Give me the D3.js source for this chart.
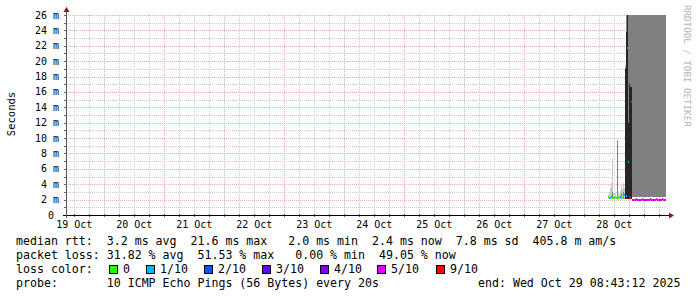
<!DOCTYPE html>
<html>
<head>
    <title>SmokePing Latency</title>
    <script src="https://d3js.org/d3.v7.min.js"></script>
    <style>
        body { margin: 0; background: #ffffff; }
        text { font-family: "DejaVu Sans Mono", monospace; fill: #000; }
    </style>
</head>
<body>
<script>
// graph window (UTC) and sample step of the plotted data
const graphStart = new Date(Date.UTC(2025, 9, 19, 8, 43, 12));
const graphEnd = new Date(Date.UTC(2025, 9, 29, 8, 43, 12));
const dataStart = new Date(Date.UTC(2025, 9, 28, 9, 31, 12));
const stepMinutes = 24;

// median rtt per sample (ms)
const median = [2.3, 2.2, 2.2, 2.3, 2.2, 2.2, 2.3, 2.2, 2.2, 2.3, 2.2, 2.3, 2.3, 2.4, 2.3, 2.4, 2.6,
    19.1, 2.5, 21.7, 6.9, 2.4, 2.2, 14.7,
    2.0, 1.9, 2.0, 2.0, 2.1, 1.9, 2.0, 2.0, 1.9, 2.0, 2.1, 2.0, 1.9, 2.0, 2.0, 2.0, 1.9,
    2.0, 2.1, 2.0, 2.0, 1.9, 2.0, 2.0, 2.1, 2.0, 1.9, 2.0, 2.0, 2.0, 2.1, 2.0, 1.9, 2.0];
// lost pings out of 10 per sample
const loss = [0, 1, 1, 1, 0, 1, 0, 0, 0, 0, 0, 0, 1, 0, 0, 0, 1,
    1, 1, 1, 1, 9, 9, 5,
    5, 5, 5, 5, 5, 5, 5, 5, 5, 5, 5, 5, 5, 5, 5, 5, 5,
    5, 5, 5, 5, 5, 5, 5, 5, 5, 5, 5, 5, 5, 5, 5, 5, 5];
// smoke: bottom, and tops of the light / mid / dark bands (ms)
const smokeLo = [2.1, 2.1, 2.1, 2.1, 2.1, 2.1, 2.1, 2.1, 2.1, 2.1, 2.1, 2.1, 2.1, 2.1, 2.1, 2.1, 2.1,
    2.1, 2.1, 2.1, 2.1, 2.1, 2.1, 2.1,
    2.3, 2.3, 2.3, 2.3, 2.3, 2.3, 2.3, 2.3, 2.3, 2.3, 2.3, 2.3, 2.3, 2.3, 2.3, 2.3, 2.3,
    2.3, 2.3, 2.3, 2.3, 2.3, 2.3, 2.3, 2.3, 2.3, 2.3, 2.3, 2.3, 2.3, 2.3, 2.3, 2.3, 2.3];
const smokeLight = [2.6, 3.0, 3.5, 4.2, 7.3, 2.9, 2.6, 2.8, 2.5, 3.3, 2.7, 2.6, 3.1, 3.9, 3.4, 4.1, 3.5,
    19.5, 24, 27, 27, 27, 27, 27,
    27, 27, 27, 27, 27, 27, 27, 27, 27, 27, 27, 27, 27, 27, 27, 27, 27,
    27, 27, 27, 27, 27, 27, 27, 27, 27, 27, 27, 27, 27, 27, 27, 27, 27];
const smokeMid = [0, 0, 0, 0, 3.0, 0, 0, 0, 0, 9.7, 0, 0, 0, 2.9, 0, 3.0, 0,
    0, 27, 27, 27, 27, 27, 27,
    27, 27, 27, 27, 27, 27, 27, 27, 27, 27, 27, 27, 27, 27, 27, 27, 27,
    27, 27, 27, 27, 27, 27, 27, 27, 27, 27, 27, 27, 27, 27, 27, 27, 27];
const smokeDark = [0, 0, 0, 0, 0, 0, 0, 0, 0, 0, 0, 0, 0, 0, 0, 0, 0,
    19.3, 23.8, 26, 12, 17, 16.6, 16.6,
    0, 0, 0, 0, 0, 0, 0, 0, 0, 0, 0, 0, 0, 0, 0, 0, 0,
    0, 0, 0, 0, 0, 0, 0, 0, 0, 0, 0, 0, 0, 0, 0, 0, 0];

// y axis ticks and loss legend
const yTicks = [0, 2, 4, 6, 8, 10, 12, 14, 16, 18, 20, 22, 24, 26];
const lossLevels = [0, 1, 2, 3, 4, 5, 9];
const lossLabels = ["0", "1/10", "2/10", "3/10", "4/10", "5/10", "9/10"];
const lossColors = ["#26ff00", "#00b8ff", "#0059ff", "#5e00ff", "#7e00ff", "#dd00ff", "#ff0000"];
const legendLines = [
    "median rtt:  3.2 ms avg  21.6 ms max   2.0 ms min  2.4 ms now  7.8 ms sd  405.8 m am/s",
    "packet loss: 31.82 % avg  51.53 % max   0.00 % min  49.05 % now",
    "loss color:",
    "probe:       10 ICMP Echo Pings (56 Bytes) every 20s"
];
const endLabel = "end: Wed Oct 29 08:43:12 2025";

const width = 697, height = 297;
const plot = {left: 66, right: 666, top: 15, bottom: 215};

const svg = d3.select("body").append("svg")
    .attr("width", width)
    .attr("height", height);

svg.append("rect").attr("width", width).attr("height", height).attr("fill", "#ffffff");

const x = d3.scaleUtc().domain([graphStart, graphEnd]).range([plot.left, plot.right]);
const y = d3.scaleLinear().domain([0, 26]).range([plot.bottom, plot.top]);

// grid
const grid = svg.append("g").attr("shape-rendering", "crispEdges");
const minorX = d3.utcHour.every(6).range(graphStart, graphEnd);
const majorX = d3.utcDay.range(graphStart, graphEnd);
const minorY = d3.range(1, 27, 2);

grid.selectAll(".vminor").data(minorX).join("line")
    .attr("x1", d => Math.round(x(d)) + 0.5).attr("x2", d => Math.round(x(d)) + 0.5)
    .attr("y1", plot.top).attr("y2", plot.bottom)
    .attr("stroke", "#cccccc").attr("stroke-dasharray", "1,1");
grid.selectAll(".hminor").data(minorY).join("line")
    .attr("x1", plot.left).attr("x2", plot.right)
    .attr("y1", d => Math.round(y(d)) + 0.5).attr("y2", d => Math.round(y(d)) + 0.5)
    .attr("stroke", "#cccccc").attr("stroke-dasharray", "1,1");
grid.selectAll(".vmajor").data(majorX).join("line")
    .attr("x1", d => Math.round(x(d)) + 0.5).attr("x2", d => Math.round(x(d)) + 0.5)
    .attr("y1", plot.top).attr("y2", plot.bottom)
    .attr("stroke", "#f4aaaa").attr("stroke-dasharray", "1,1");
grid.selectAll(".hmajor").data(yTicks.slice(1)).join("line")
    .attr("x1", plot.left).attr("x2", plot.right)
    .attr("y1", d => Math.round(y(d)) + 0.5).attr("y2", d => Math.round(y(d)) + 0.5)
    .attr("stroke", "#f4aaaa").attr("stroke-dasharray", "1,1");

// samples
const samples = median.map((m, i) => {
    const t0 = new Date(dataStart.getTime() + i * stepMinutes * 60000);
    const t1 = new Date(t0.getTime() + stepMinutes * 60000);
    return {t0, t1, median: m, loss: loss[i], lo: smokeLo[i],
        light: smokeLight[i], mid: smokeMid[i], dark: smokeDark[i]};
});

svg.append("clipPath").attr("id", "plotclip")
    .append("rect").attr("x", plot.left).attr("y", plot.top)
    .attr("width", plot.right - plot.left).attr("height", plot.bottom - plot.top);

const marks = svg.append("g").attr("clip-path", "url(#plotclip)").attr("shape-rendering", "crispEdges");

function band(key, color) {
    marks.selectAll("." + key).data(samples.filter(d => d[key] > d.lo)).join("rect")
        .attr("x", d => x(d.t0))
        .attr("width", d => x(d.t1) - x(d.t0))
        .attr("y", d => y(d[key]))
        .attr("height", d => y(d.lo) - y(d[key]))
        .attr("fill", color);
}
band("light", "#c8c8c8");
band("mid", "#808080");
band("dark", "#262626");

// median, coloured by loss
marks.selectAll(".med").data(samples).join("rect")
    .attr("x", d => x(d.t0))
    .attr("width", d => x(d.t1) - x(d.t0))
    .attr("y", d => y(d.median) - 1)
    .attr("height", 2)
    .attr("fill", d => lossColors[lossLevels.indexOf(d.loss)]);

// axes and ticks
const axes = svg.append("g").attr("shape-rendering", "crispEdges");
axes.selectAll(".xt").data(minorX).join("line")
    .attr("x1", d => Math.round(x(d)) + 0.5).attr("x2", d => Math.round(x(d)) + 0.5)
    .attr("y1", plot.bottom - 1).attr("y2", plot.bottom + 2)
    .attr("stroke", "#666");
axes.selectAll(".yt").data(d3.range(0, 27)).join("line")
    .attr("x1", plot.left - 2).attr("x2", plot.left + 1)
    .attr("y1", d => Math.round(y(d)) + 0.5).attr("y2", d => Math.round(y(d)) + 0.5)
    .attr("stroke", "#666");
axes.append("line")
    .attr("x1", plot.left - 3).attr("x2", plot.right + 4)
    .attr("y1", plot.bottom + 0.5).attr("y2", plot.bottom + 0.5)
    .attr("stroke", "#000");
axes.append("line")
    .attr("x1", plot.left + 0.5).attr("x2", plot.left + 0.5)
    .attr("y1", plot.bottom + 3).attr("y2", plot.top - 4)
    .attr("stroke", "#555");

// arrows
svg.append("path")
    .attr("d", `M${plot.right + 3},${plot.bottom - 2.5}L${plot.right + 8},${plot.bottom + 0.5}L${plot.right + 3},${plot.bottom + 3.5}Z`)
    .attr("fill", "#8b1a1a");
svg.append("path")
    .attr("d", `M${plot.left - 2.5},${plot.top - 3}L${plot.left + 0.5},${plot.top - 8}L${plot.left + 3.5},${plot.top - 3}Z`)
    .attr("fill", "#8b1a1a");

// y labels
svg.selectAll(".ylab").data(yTicks).join("text")
    .attr("x", d => d === 0 ? 54 : 59)
    .attr("y", d => y(d) + 3.5)
    .attr("text-anchor", "end")
    .attr("font-size", "10px")
    .text(d => d === 0 ? "0" : d + " m");

// x labels at noon
const noons = d3.utcDay.range(new Date(Date.UTC(2025, 9, 19)), new Date(Date.UTC(2025, 9, 29)))
    .map(d => new Date(d.getTime() + 12 * 3600000));
svg.selectAll(".xlab").data(noons).join("text")
    .attr("x", d => x(d))
    .attr("y", 228)
    .attr("text-anchor", "middle")
    .attr("font-size", "10px")
    .text(d => d3.utcFormat("%d %b")(d));

// vertical label
svg.append("text")
    .attr("transform", "translate(15,114) rotate(-90)")
    .attr("text-anchor", "middle")
    .attr("font-family", "DejaVu Sans")
    .attr("font-size", "10.5px")
    .text("Seconds");

// watermark
svg.append("text")
    .attr("transform", "translate(684,5) rotate(90)")
    .attr("font-size", "9.2px")
    .style("fill", "#b4b4b4")
    .text("RRDTOOL / TOBI OETIKER");

// legend
const legend = svg.append("g").attr("font-size", "11.6px");
legend.selectAll(".leg").data(legendLines).join("text")
    .attr("x", 16)
    .attr("y", (d, i) => 245 + i * 14)
    .attr("xml:space", "preserve")
    .style("white-space", "pre")
    .text(d => d);
legend.append("text")
    .attr("x", 478).attr("y", 287)
    .text(endLabel);

const boxX = [109, 146, 204, 262, 320, 377, 436];
lossLabels.forEach((lab, i) => {
    legend.append("rect")
        .attr("x", boxX[i] + 0.5).attr("y", 265.5)
        .attr("width", 8).attr("height", 8)
        .attr("fill", lossColors[i]).attr("stroke", "#000");
    legend.append("text")
        .attr("x", boxX[i] + 14).attr("y", 273)
        .text(lab);
});
</script>
</body>
</html>
